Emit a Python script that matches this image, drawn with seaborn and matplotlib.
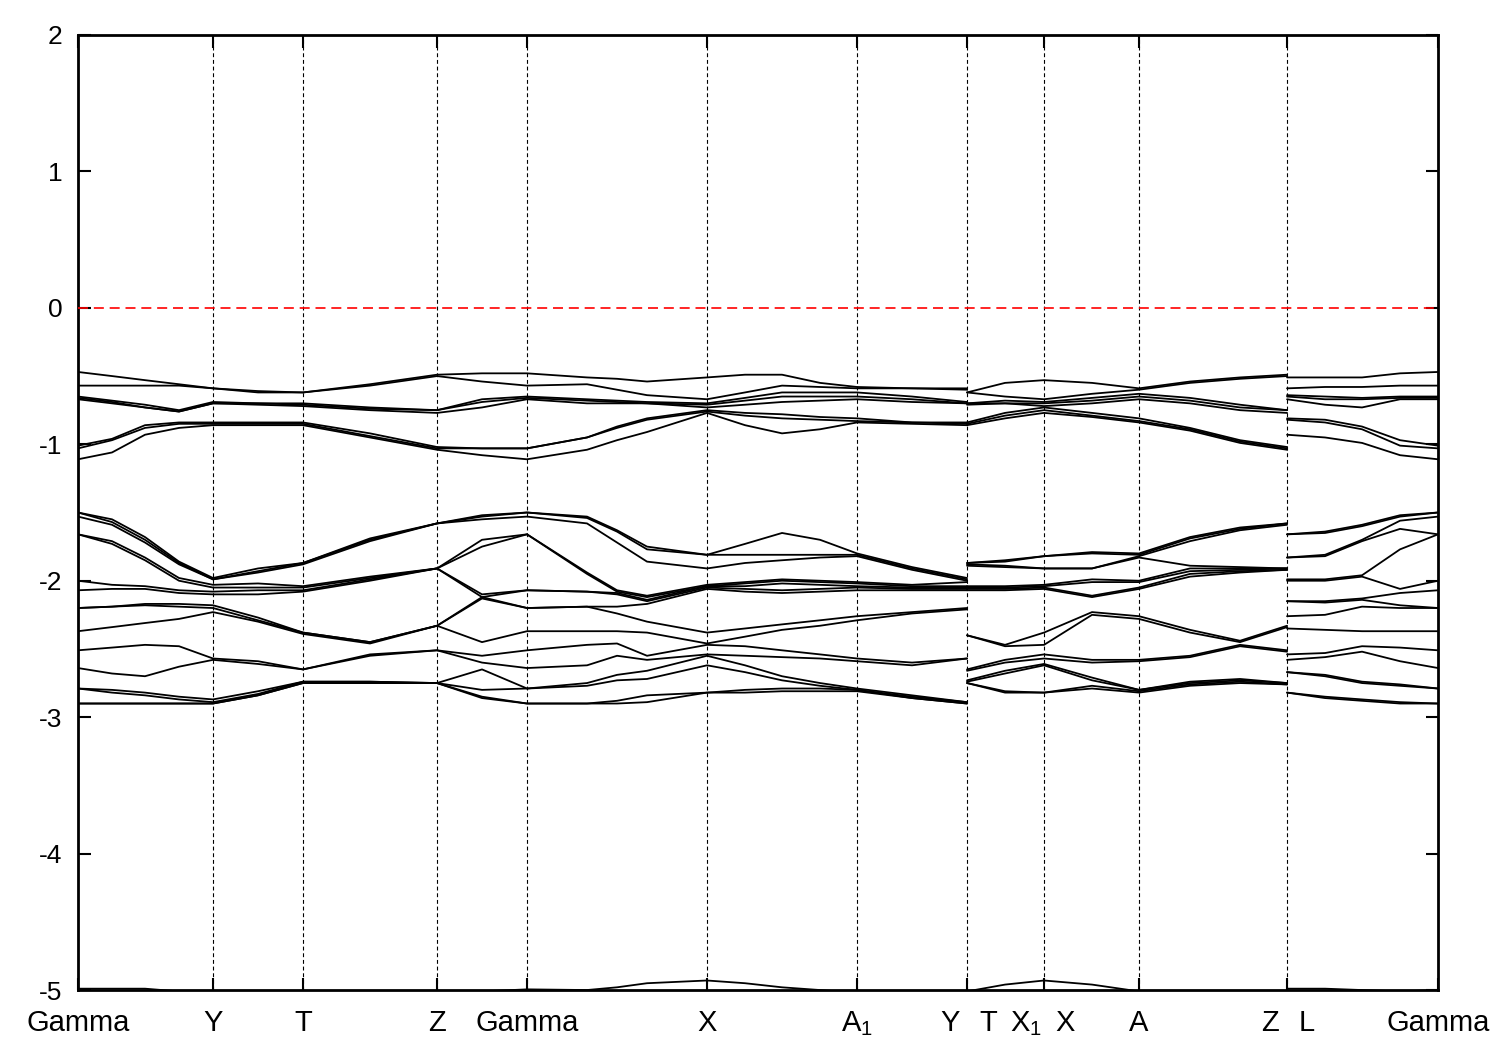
import pandas as pd
import matplotlib
matplotlib.use('Agg')
import matplotlib.pyplot as plt
import seaborn as sns

# k-path coordinate of the sampled points, one list per continuous piece of the path
k_seg1 = [0.000, 0.034, 0.067, 0.101, 0.135, 0.180, 0.225, 0.292, 0.359, 0.404, 0.449,
          0.509, 0.539, 0.569, 0.629, 0.667, 0.704, 0.742, 0.779, 0.834, 0.889]
k_seg2 = [0.889, 0.927, 0.966, 1.014, 1.061, 1.112, 1.162, 1.209]
k_seg3 = [1.209, 1.247, 1.284, 1.322, 1.360]

# high symmetry points (vertical lines) and their labels
sym_k = [0.0, 0.135, 0.225, 0.359, 0.449, 0.629, 0.779, 0.889, 0.966, 1.061, 1.209, 1.360]
sym_labels = ['Gamma', 'Y', 'T', 'Z', 'Gamma', 'X', 'A$_1$', '', '', 'A', '', 'Gamma']
# labels of the jumps (Y|T, X1|X, Z|L) sit on both sides of the line
split_k = [0.872, 0.910, 0.948, 0.987, 1.192, 1.229]
split_labels = ['Y', 'T', 'X$_1$', 'X', 'Z', 'L']

# energies (eV) of the upper valence bands, one row per k point
upper1 = [
    [-0.47, -0.57, -0.65, -0.66, -0.67, -1.01, -1.03, -1.11],
    [-0.50, -0.57, -0.68, -0.69, -0.70, -0.96, -0.97, -1.06],
    [-0.53, -0.57, -0.71, -0.73, -0.73, -0.86, -0.88, -0.93],
    [-0.56, -0.57, -0.75, -0.76, -0.76, -0.84, -0.85, -0.88],
    [-0.59, -0.59, -0.69, -0.70, -0.70, -0.84, -0.85, -0.86],
    [-0.61, -0.62, -0.70, -0.70, -0.71, -0.84, -0.85, -0.86],
    [-0.62, -0.62, -0.70, -0.71, -0.72, -0.84, -0.85, -0.86],
    [-0.56, -0.57, -0.73, -0.74, -0.75, -0.92, -0.94, -0.95],
    [-0.49, -0.50, -0.75, -0.75, -0.77, -1.02, -1.03, -1.04],
    [-0.48, -0.54, -0.67, -0.69, -0.73, -1.03, -1.03, -1.08],
    [-0.48, -0.57, -0.65, -0.66, -0.67, -1.03, -1.03, -1.11],
    [-0.51, -0.56, -0.67, -0.68, -0.70, -0.95, -0.95, -1.04],
    [-0.52, -0.60, -0.68, -0.69, -0.70, -0.87, -0.88, -0.97],
    [-0.54, -0.64, -0.69, -0.70, -0.70, -0.81, -0.82, -0.91],
    [-0.51, -0.67, -0.70, -0.71, -0.73, -0.75, -0.76, -0.77],
    [-0.49, -0.62, -0.66, -0.68, -0.71, -0.77, -0.79, -0.86],
    [-0.49, -0.57, -0.62, -0.65, -0.69, -0.78, -0.81, -0.92],
    [-0.55, -0.58, -0.62, -0.65, -0.68, -0.80, -0.82, -0.89],
    [-0.58, -0.59, -0.62, -0.65, -0.67, -0.81, -0.83, -0.84],
    [-0.59, -0.59, -0.65, -0.67, -0.69, -0.84, -0.84, -0.85],
    [-0.59, -0.60, -0.69, -0.70, -0.70, -0.84, -0.85, -0.86],
]
upper2 = [
    [-0.62, -0.62, -0.70, -0.70, -0.71, -0.84, -0.85, -0.86],
    [-0.55, -0.65, -0.68, -0.70, -0.70, -0.77, -0.79, -0.81],
    [-0.53, -0.67, -0.69, -0.70, -0.72, -0.73, -0.75, -0.77],
    [-0.55, -0.63, -0.66, -0.68, -0.70, -0.77, -0.79, -0.80],
    [-0.59, -0.60, -0.63, -0.65, -0.67, -0.81, -0.83, -0.84],
    [-0.54, -0.55, -0.66, -0.68, -0.70, -0.88, -0.89, -0.90],
    [-0.51, -0.52, -0.71, -0.73, -0.75, -0.97, -0.98, -0.99],
    [-0.49, -0.50, -0.75, -0.75, -0.77, -1.02, -1.03, -1.04],
]
upper3 = [
    [-0.51, -0.59, -0.64, -0.65, -0.67, -0.81, -0.82, -0.93],
    [-0.51, -0.58, -0.65, -0.67, -0.71, -0.82, -0.84, -0.95],
    [-0.51, -0.58, -0.66, -0.67, -0.73, -0.87, -0.89, -0.99],
    [-0.48, -0.57, -0.65, -0.66, -0.67, -0.97, -1.01, -1.08],
    [-0.47, -0.57, -0.65, -0.66, -0.67, -1.01, -1.03, -1.11],
]

# energies (eV) of the lower valence bands
lower1 = [
    [-1.50, -1.50, -1.53, -1.66, -1.66, -2.00, -2.07, -2.20, -2.20, -2.37, -2.51, -2.64, -2.79, -2.79, -2.90, -2.90],
    [-1.55, -1.57, -1.59, -1.71, -1.73, -2.03, -2.06, -2.19, -2.19, -2.34, -2.49, -2.68, -2.80, -2.82, -2.90, -2.90],
    [-1.68, -1.70, -1.72, -1.83, -1.85, -2.04, -2.06, -2.17, -2.18, -2.31, -2.47, -2.70, -2.82, -2.84, -2.90, -2.90],
    [-1.86, -1.87, -1.88, -1.98, -2.00, -2.07, -2.09, -2.17, -2.19, -2.28, -2.48, -2.63, -2.85, -2.87, -2.90, -2.90],
    [-1.98, -1.99, -1.99, -2.03, -2.05, -2.08, -2.10, -2.18, -2.20, -2.23, -2.57, -2.58, -2.87, -2.89, -2.90, -2.90],
    [-1.91, -1.93, -1.94, -2.02, -2.05, -2.07, -2.10, -2.27, -2.29, -2.30, -2.59, -2.61, -2.81, -2.83, -2.84, -2.84],
    [-1.87, -1.87, -1.88, -2.04, -2.05, -2.07, -2.08, -2.38, -2.38, -2.39, -2.65, -2.65, -2.74, -2.74, -2.75, -2.75],
    [-1.69, -1.70, -1.71, -1.97, -1.98, -1.99, -2.00, -2.45, -2.45, -2.46, -2.54, -2.55, -2.74, -2.74, -2.75, -2.75],
    [-1.58, -1.58, -1.58, -1.91, -1.91, -1.91, -1.91, -2.33, -2.33, -2.33, -2.51, -2.51, -2.75, -2.75, -2.75, -2.75],
    [-1.52, -1.53, -1.55, -1.70, -1.75, -2.10, -2.12, -2.12, -2.13, -2.45, -2.55, -2.60, -2.65, -2.80, -2.85, -2.86],
    [-1.50, -1.50, -1.53, -1.66, -1.66, -2.07, -2.07, -2.20, -2.20, -2.37, -2.51, -2.64, -2.79, -2.79, -2.90, -2.90],
    [-1.53, -1.54, -1.58, -1.94, -1.95, -2.08, -2.08, -2.19, -2.19, -2.37, -2.47, -2.62, -2.75, -2.77, -2.90, -2.90],
    [-1.63, -1.64, -1.72, -2.07, -2.08, -2.09, -2.10, -2.19, -2.24, -2.37, -2.46, -2.55, -2.69, -2.73, -2.88, -2.90],
    [-1.75, -1.77, -1.86, -2.11, -2.12, -2.14, -2.15, -2.17, -2.30, -2.38, -2.55, -2.58, -2.66, -2.72, -2.84, -2.89],
    [-1.81, -1.81, -1.91, -2.03, -2.04, -2.04, -2.05, -2.06, -2.38, -2.46, -2.47, -2.54, -2.55, -2.62, -2.82, -2.82],
    [-1.73, -1.81, -1.87, -2.01, -2.02, -2.04, -2.06, -2.08, -2.35, -2.41, -2.48, -2.55, -2.62, -2.67, -2.80, -2.82],
    [-1.65, -1.81, -1.85, -1.99, -2.00, -2.02, -2.07, -2.09, -2.32, -2.36, -2.51, -2.56, -2.70, -2.73, -2.79, -2.81],
    [-1.70, -1.81, -1.83, -2.00, -2.01, -2.03, -2.06, -2.08, -2.29, -2.33, -2.54, -2.57, -2.75, -2.77, -2.79, -2.81],
    [-1.80, -1.81, -1.82, -2.01, -2.02, -2.04, -2.05, -2.07, -2.26, -2.29, -2.57, -2.59, -2.79, -2.80, -2.80, -2.81],
    [-1.90, -1.91, -1.92, -2.03, -2.04, -2.05, -2.06, -2.07, -2.23, -2.24, -2.60, -2.62, -2.84, -2.85, -2.86, -2.86],
    [-1.98, -1.99, -2.00, -2.01, -2.04, -2.05, -2.06, -2.07, -2.20, -2.21, -2.57, -2.57, -2.89, -2.89, -2.90, -2.90],
]
lower2 = [
    [-1.87, -1.87, -1.88, -1.89, -2.04, -2.05, -2.06, -2.07, -2.40, -2.40, -2.65, -2.66, -2.73, -2.74, -2.75, -2.75],
    [-1.85, -1.86, -1.89, -1.90, -2.04, -2.05, -2.06, -2.07, -2.47, -2.48, -2.58, -2.60, -2.66, -2.68, -2.81, -2.82],
    [-1.82, -1.82, -1.91, -1.91, -2.03, -2.04, -2.05, -2.06, -2.38, -2.47, -2.54, -2.57, -2.61, -2.62, -2.82, -2.82],
    [-1.79, -1.80, -1.91, -1.91, -1.99, -2.01, -2.11, -2.12, -2.23, -2.25, -2.58, -2.60, -2.71, -2.73, -2.77, -2.79],
    [-1.80, -1.81, -1.82, -1.83, -2.00, -2.01, -2.05, -2.06, -2.26, -2.28, -2.58, -2.59, -2.80, -2.80, -2.81, -2.82],
    [-1.68, -1.69, -1.71, -1.89, -1.91, -1.93, -1.95, -1.97, -2.36, -2.38, -2.55, -2.56, -2.74, -2.75, -2.76, -2.77],
    [-1.61, -1.62, -1.63, -1.90, -1.91, -1.92, -1.93, -1.94, -2.44, -2.45, -2.47, -2.48, -2.72, -2.73, -2.74, -2.75],
    [-1.58, -1.58, -1.59, -1.91, -1.91, -1.91, -1.92, -1.92, -2.33, -2.34, -2.51, -2.52, -2.75, -2.75, -2.76, -2.76],
]
lower3 = [
    [-1.66, -1.66, -1.83, -1.83, -1.99, -2.00, -2.15, -2.15, -2.26, -2.35, -2.54, -2.58, -2.67, -2.67, -2.82, -2.82],
    [-1.64, -1.65, -1.81, -1.82, -1.99, -2.00, -2.15, -2.16, -2.25, -2.36, -2.53, -2.56, -2.69, -2.70, -2.85, -2.86],
    [-1.59, -1.60, -1.70, -1.71, -1.96, -1.97, -2.13, -2.14, -2.19, -2.37, -2.48, -2.52, -2.74, -2.75, -2.87, -2.88],
    [-1.52, -1.53, -1.56, -1.62, -1.77, -2.06, -2.09, -2.18, -2.20, -2.37, -2.49, -2.59, -2.76, -2.77, -2.89, -2.90],
    [-1.50, -1.50, -1.53, -1.66, -1.66, -2.00, -2.07, -2.20, -2.20, -2.37, -2.51, -2.64, -2.79, -2.79, -2.90, -2.90],
]

# the deep band grazing the bottom of the window
deep1 = [-4.99, -4.99, -4.99, -5.01, -5.02, -5.06, -5.08, -5.05, -5.03, -5.01, -4.995,
         -5.00, -4.98, -4.95, -4.93, -4.95, -4.98, -5.00, -5.02, -5.04, -5.03]
deep2 = [-5.01, -4.96, -4.93, -4.96, -5.01, -5.03, -5.04, -5.02]
deep3 = [-4.99, -4.99, -5.00, -5.01, -5.00]

# build a long table: one 'line' id per band per path piece
rows = []
pieces = [(k_seg1, upper1, lower1, deep1),
          (k_seg2, upper2, lower2, deep2),
          (k_seg3, upper3, lower3, deep3)]
for s, (ks, up, lo, dp) in enumerate(pieces):
    for i, k in enumerate(ks):
        for b, e in enumerate(up[i]):
            rows.append({'k': k, 'E': e, 'line': f'u{s}_{b}'})
        for b, e in enumerate(lo[i]):
            rows.append({'k': k, 'E': e, 'line': f'l{s}_{b}'})
        rows.append({'k': k, 'E': dp[i], 'line': f'd{s}'})
df = pd.DataFrame(rows)

sns.set_style('ticks')
plt.rcParams['font.family'] = ['Liberation Sans', 'DejaVu Sans']
plt.rcParams['mathtext.default'] = 'regular'
plt.rcParams['axes.unicode_minus'] = False
for key in ['text.color', 'axes.edgecolor', 'xtick.color', 'ytick.color', 'axes.labelcolor']:
    plt.rcParams[key] = 'black'

fig, ax = plt.subplots(figsize=(15, 10.5), dpi=100)
fig.subplots_adjust(left=0.052, right=0.9587, bottom=0.0571, top=0.9667)

# vertical lines at the high symmetry points
for k in sym_k[1:-1]:
    ax.axvline(k, color='black', lw=0.8, ls=(0, (3.5, 2.5)), zorder=1)

sns.lineplot(data=df, x='k', y='E', units='line', estimator=None,
             color='black', lw=1.3, legend=False, ax=ax, zorder=2)

# Fermi level
ax.axhline(0, color='red', lw=1.2, ls=(0, (6, 3.5)), zorder=3)

ax.set_xlim(0, 1.36)
ax.set_ylim(-5, 2)
ax.set_xlabel('')
ax.set_ylabel('')
ax.set_yticks(range(-5, 3))
ax.set_xticks(sym_k)
ax.set_xticklabels(sym_labels)
ax.set_xticks(split_k, minor=True)
ax.set_xticklabels(split_labels, minor=True)

for sp in ax.spines.values():
    sp.set_linewidth(2)
    sp.set_color('black')
ax.tick_params(axis='y', direction='in', length=9, width=1.5, labelsize=19,
               pad=11, left=True, right=True, colors='black')
ax.tick_params(axis='x', which='major', direction='in', length=9, width=1.5,
               labelsize=21, pad=14, top=True, colors='black')
ax.tick_params(axis='x', which='minor', length=0, labelsize=21, pad=14,
               colors='black')

plt.savefig('out.png', dpi=100)
